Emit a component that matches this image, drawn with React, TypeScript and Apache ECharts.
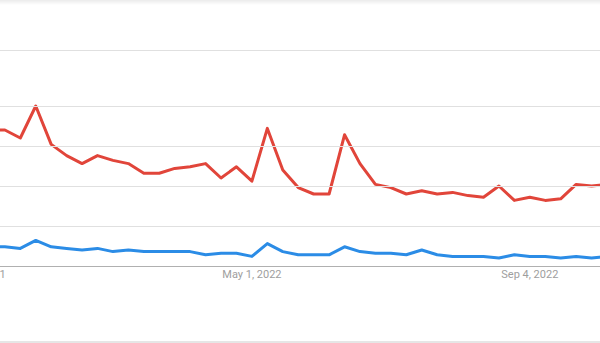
import React, { useEffect, useRef } from "react";
import * as echarts from "echarts";

const weeks = [
  "Dec 26, 2021", "Jan 2, 2022", "Jan 9, 2022", "Jan 16, 2022", "Jan 23, 2022", "Jan 30, 2022",
  "Feb 6, 2022", "Feb 13, 2022", "Feb 20, 2022", "Feb 27, 2022", "Mar 6, 2022", "Mar 13, 2022",
  "Mar 20, 2022", "Mar 27, 2022", "Apr 3, 2022", "Apr 10, 2022", "Apr 17, 2022", "Apr 24, 2022",
  "May 1, 2022", "May 8, 2022", "May 15, 2022", "May 22, 2022", "May 29, 2022", "Jun 5, 2022",
  "Jun 12, 2022", "Jun 19, 2022", "Jun 26, 2022", "Jul 3, 2022", "Jul 10, 2022", "Jul 17, 2022",
  "Jul 24, 2022", "Jul 31, 2022", "Aug 7, 2022", "Aug 14, 2022", "Aug 21, 2022", "Aug 28, 2022",
  "Sep 4, 2022", "Sep 11, 2022", "Sep 18, 2022", "Sep 25, 2022", "Oct 2, 2022", "Oct 9, 2022",
];

const redSeries = [
  null, 85, 85, 80, 100, 76, 69, 64, 69, 66, 64, 58, 58, 61, 62, 64, 55, 62, 53, 86, 60,
  49, 45, 45, 82, 64, 51, 49, 45, 47, 45, 46, 44, 43, 50, 41, 43, 41, 42, 51, 50, 51,
];

const blueSeries = [
  null, 12, 12, 11, 16, 12, 11, 10, 11, 9, 10, 9, 9, 9, 9, 7, 8, 8, 6, 14, 9,
  7, 7, 7, 12, 9, 8, 8, 7, 10, 7, 6, 6, 6, 5, 7, 6, 6, 5, 6, 5, 6,
];

const gridValues = [25, 50, 75, 100];
const yMax = 135;

const OFFSET = 26; // canvas starts left of the visible window (chart is cropped)
const WIDTH = 640;

export default function App() {
  const ref = useRef<HTMLDivElement>(null);
  useEffect(() => {
    document.body.style.overflow = "hidden";
    document.body.style.background = "#fff";
    if (!ref.current) return;
    const chart = echarts.init(ref.current, null, { renderer: "svg" });
    chart.setOption({
      animation: false,
      backgroundColor: "#ffffff",
      grid: {
        left: 0,
        right: 7,
        top: 50,
        bottom: 77,
        containLabel: false,
        outerBoundsMode: "none",
      },
      xAxis: {
        type: "category",
        data: weeks,
        boundaryGap: false,
        axisLine: { lineStyle: { color: "#b0b0b0", width: 1 } },
        axisTick: { show: false },
        axisLabel: {
          interval: 17,
          color: "#9e9e9e",
          fontSize: 11,
          fontFamily: "Roboto",
          margin: 3,
        },
        splitLine: { show: false },
      },
      yAxis: {
        type: "value",
        min: 0,
        max: yMax,
        interval: yMax,
        axisLine: { show: false },
        axisTick: { show: false },
        axisLabel: { show: false },
        splitLine: { show: true, lineStyle: { color: "#e0e0e0", width: 1 } },
      },
      graphic: [
        {
          type: "rect",
          shape: { x: 0, y: 0, width: WIDTH, height: 5 },
          style: {
            fill: new echarts.graphic.LinearGradient(0, 0, 0, 1, [
              { offset: 0, color: "#ebebeb" },
              { offset: 1, color: "#ffffff" },
            ]),
          },
          silent: true,
        },
        {
          type: "rect",
          shape: { x: 0, y: 341, width: WIDTH, height: 2 },
          style: { fill: "#e6e6e6" },
          silent: true,
        },
      ],
      series: [
        {
          type: "line",
          data: [],
          z: 1,
          silent: true,
          markLine: {
            silent: true,
            symbol: "none",
            label: { show: false },
            lineStyle: { color: "#e0e0e0", type: "solid", width: 1 },
            data: gridValues.map((v) => ({ yAxis: v })),
          },
        },
        {
          name: "blue",
          type: "line",
          data: blueSeries,
          z: 3,
          showSymbol: false,
          symbol: "none",
          lineStyle: { color: "#2b8ce6", width: 3, join: "round" },
          itemStyle: { color: "#2b8ce6" },
        },
        {
          name: "red",
          type: "line",
          data: redSeries,
          z: 3,
          showSymbol: false,
          symbol: "none",
          lineStyle: { color: "#e1453a", width: 3, join: "round" },
          itemStyle: { color: "#e1453a" },
        },
      ],
    });
    return () => chart.dispose();
  }, []);
  return (
    <div
      ref={ref}
      style={{
        position: "fixed",
        left: -OFFSET,
        top: 0,
        width: WIDTH,
        height: 343,
        background: "#fff",
      }}
    />
  );
}
